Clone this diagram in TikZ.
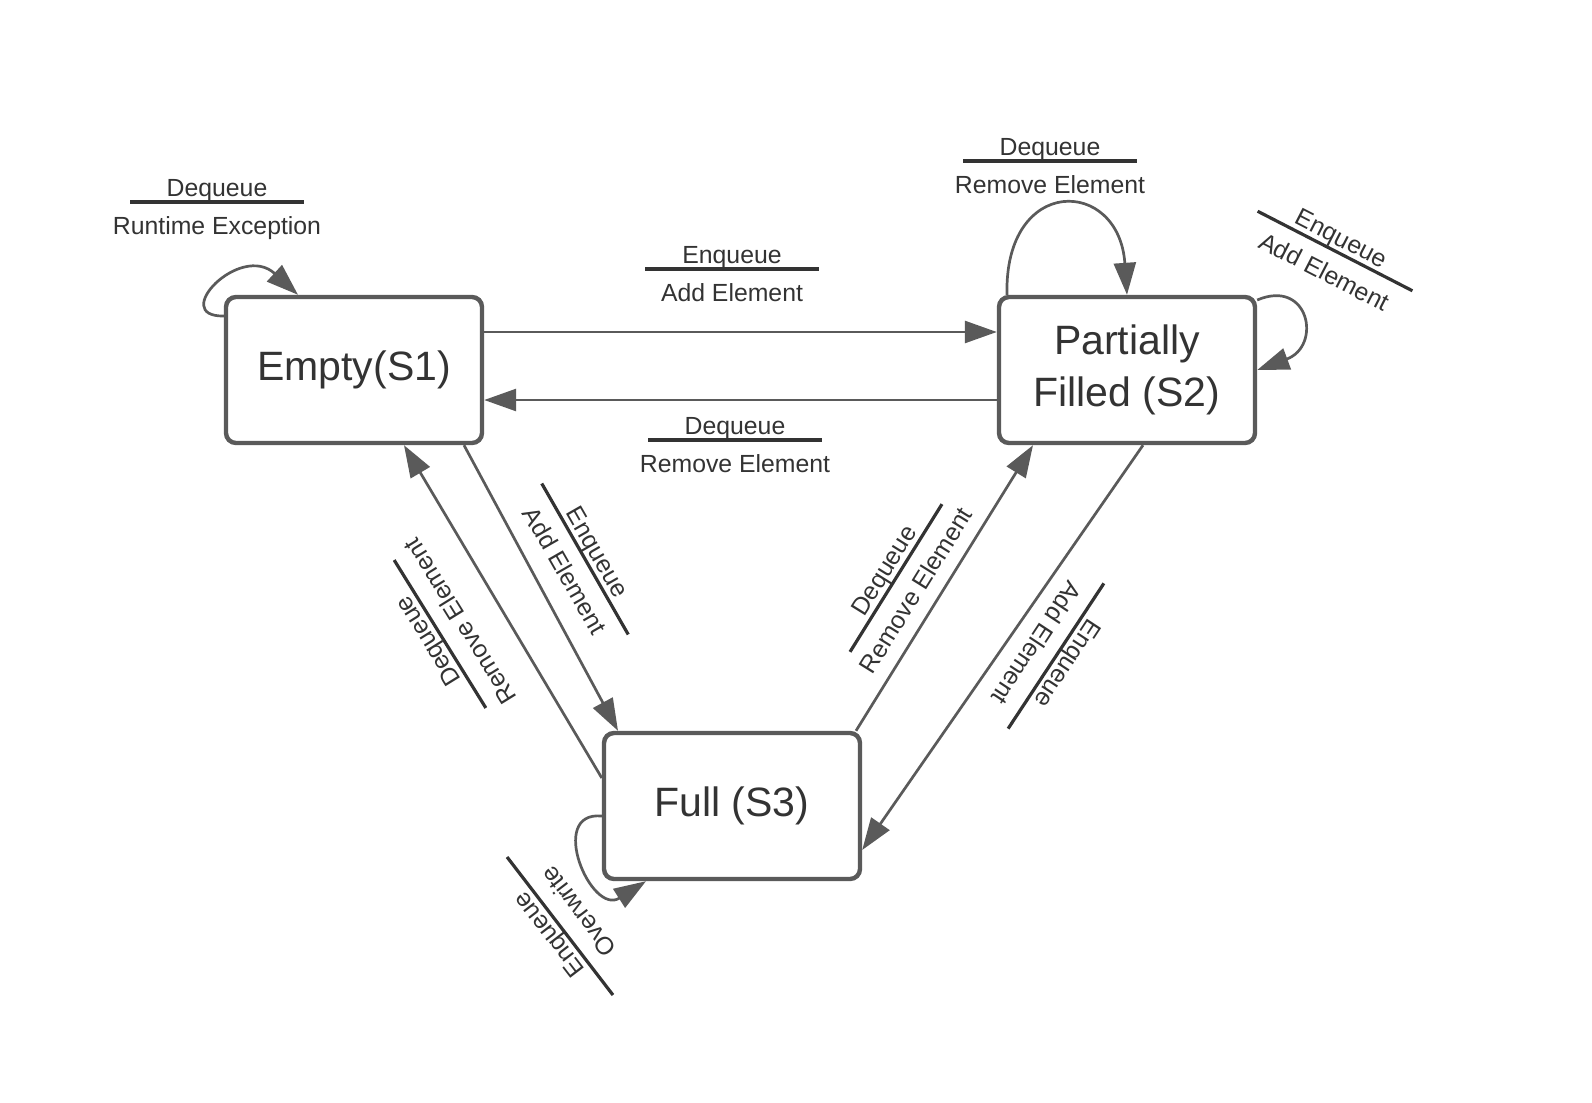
\documentclass[tikz,border=0pt]{standalone}
\usepackage{fontspec}
\setmainfont{Liberation Sans}
\usetikzlibrary{arrows.meta}

\definecolor{edgegray}{HTML}{5A5A5A}
\definecolor{textgray}{HTML}{333333}

\tikzset{
  state/.style={draw=edgegray, line width=2.2pt, rounded corners=5pt, fill=white,
    minimum width=128pt, minimum height=73pt, align=center, text=textgray,
    font=\fontsize{20.5}{25.8}\selectfont},
  trans/.style={draw=edgegray, line width=1.35pt, -{Triangle[length=16pt,width=11pt]}},
  lbl/.style={text=textgray, font=\fontsize{12.4}{15}\selectfont, inner sep=0pt, anchor=base},
  sepline/.style={fill=textgray, minimum width=87pt, minimum height=1.6pt, inner sep=0pt, outer sep=0pt}
}

% event over action, split by a rule
\newcommand{\evlabel}[6]{%
  \begin{scope}[shift={(#2,#3)}, rotate=#4, transform shape]
    \node[sepline] (#1) at (0,0) {};
    \node[lbl] (#1ev) at (0,-6) {#5};
    \node[lbl] (#1act) at (0,32) {#6};
  \end{scope}}

\begin{document}
\begin{tikzpicture}[x=0.5pt, y=-0.5pt]
  \useasboundingbox (0,0) rectangle (1592,1103);

  \node[state] (s1) at (354,370) {Empty(S1)};
  \node[state] (s2) at (1127,370) {Partially\\Filled (S2)};
  \node[state] (s3) at (732,806) {Full (S3)};

  \begin{scope}[trans]
    \draw ([yshift=19pt]s1.east) to ([yshift=19pt]s2.west);
    \draw ([yshift=-15pt]s2.west) to ([yshift=-15pt]s1.east);
    \draw ([xshift=55pt]s1.south) to ([xshift=-57pt]s3.north);
    \draw ([yshift=14pt]s3.west) to ([xshift=25pt]s1.south);
    \draw ([xshift=62pt]s3.north) to ([xshift=-47pt]s2.south);
    \draw ([xshift=8pt]s2.south) to ([yshift=-22pt]s3.east);
    % self loops
    \draw ([yshift=27pt]s1.west) .. controls +(-55,1) and +(-58,-53) .. ([xshift=-28pt]s1.north);
    \draw ([xshift=-60pt]s2.north) .. controls +(-3,-120) and +(-8,-118) .. (s2.north);
    \draw ([yshift=35pt]s2.east) .. controls +(52,-22) and +(65,-24) .. (s2.east);
    \draw ([yshift=-5pt]s3.west) .. controls +(-55,-5) and +(-55,35) .. ([xshift=-43pt]s3.south);
  \end{scope}

  \evlabel{l1}{217}{202}{0}{Dequeue}{Runtime Exception}
  \evlabel{l12}{732}{269}{0}{Enqueue}{Add Element}
  \evlabel{l21}{735}{440}{0}{Dequeue}{Remove Element}
  \evlabel{l2}{1050}{161}{0}{Dequeue}{Remove Element}
  \evlabel{l2b}{1335}{251}{-27.2}{Enqueue}{Add Element}
  \evlabel{l13}{585}{559}{-60.2}{Enqueue}{Add Element}
  \evlabel{l31}{440}{634}{121.8}{Dequeue}{Remove Element}
  \evlabel{l32}{896}{578}{58.1}{Dequeue}{Remove Element}
  \evlabel{l23}{1056}{656}{-123.4}{Enqueue}{Add Element}
  \evlabel{l3}{560}{926}{127.5}{Enqueue}{Overwrite}
\end{tikzpicture}
\end{document}
